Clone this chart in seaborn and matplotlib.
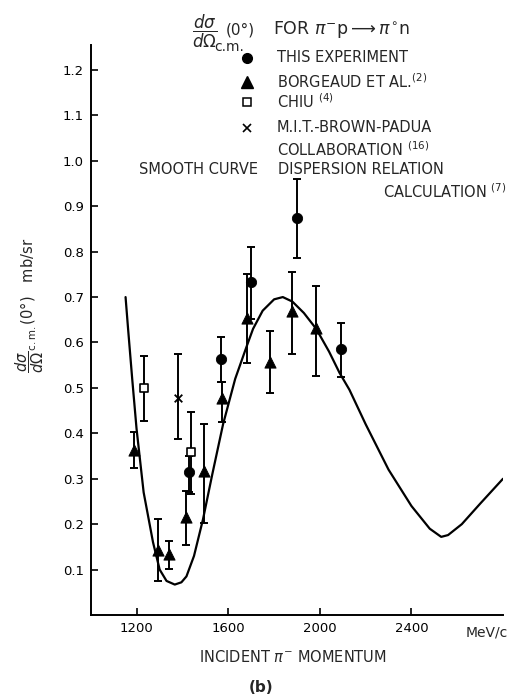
import numpy as np
import pandas as pd
import matplotlib
matplotlib.use("Agg")
import matplotlib.pyplot as plt
import seaborn as sns

# ---------------- data ----------------
exp_p = [1428, 1566, 1700, 1898, 2094]
exp_s = [0.314, 0.564, 0.734, 0.873, 0.586]
exp_lo = [0.270, 0.513, 0.651, 0.785, 0.524]
exp_hi = [0.351, 0.613, 0.811, 0.961, 0.643]

borg_p = [1188, 1293, 1341, 1417, 1492, 1572, 1680, 1781, 1879, 1984]
borg_s = [0.364, 0.143, 0.135, 0.215, 0.317, 0.477, 0.655, 0.556, 0.669, 0.631]
borg_lo = [0.324, 0.074, 0.101, 0.154, 0.203, 0.424, 0.555, 0.489, 0.574, 0.527]
borg_hi = [0.402, 0.212, 0.164, 0.272, 0.421, 0.513, 0.750, 0.626, 0.756, 0.724]

chiu_p = [1232, 1439]
chiu_s = [0.500, 0.359]
chiu_lo = [0.428, 0.267]
chiu_hi = [0.571, 0.446]

mit_p = [1380]
mit_s = [0.478]
mit_lo = [0.388]
mit_hi = [0.575]

curve_p = [1151, 1162, 1180, 1199, 1230, 1271, 1300, 1330, 1366, 1395, 1417,
           1450, 1489, 1530, 1577, 1630, 1679, 1708, 1750, 1800, 1838, 1880,
           1930, 1984, 2040, 2086, 2129, 2200, 2300, 2400, 2480, 2530, 2560,
           2620, 2700, 2800]
curve_s = [0.700, 0.630, 0.520, 0.410, 0.270, 0.160, 0.100, 0.075, 0.067, 0.072,
           0.085, 0.130, 0.210, 0.310, 0.420, 0.520, 0.590, 0.630, 0.670, 0.695,
           0.700, 0.690, 0.665, 0.630, 0.580, 0.533, 0.496, 0.420, 0.320, 0.240,
           0.190, 0.172, 0.176, 0.200, 0.245, 0.300]

x_ticks = [1200, 1600, 2000, 2400]
y_ticks = [0.1, 0.2, 0.3, 0.4, 0.5, 0.6, 0.7, 0.8, 0.9, 1.0, 1.1, 1.2]

# ---------------- style ----------------
sns.set_theme(style="ticks")
plt.rcParams["font.family"] = ["DejaVu Sans"]
plt.rcParams["mathtext.fontset"] = "dejavusans"

W, H = 510, 696
fig = plt.figure(figsize=(W / 100, H / 100), dpi=100)
fig.patch.set_facecolor("white")


def fx(x):
    return x / W


def fy(y):
    return 1 - y / H


ax = fig.add_axes([fx(91), fy(615), (503 - 91) / W, (615 - 45) / H])
ax.set_facecolor("white")

curve_df = pd.DataFrame({"p": curve_p, "s": curve_s})
sns.lineplot(data=curve_df, x="p", y="s", ax=ax, color="black", lw=1.6, sort=False)


def errs(s, lo, hi):
    s = np.asarray(s)
    return [s - np.asarray(lo), np.asarray(hi) - s]


for p, s, lo, hi in [(exp_p, exp_s, exp_lo, exp_hi),
                     (borg_p, borg_s, borg_lo, borg_hi),
                     (chiu_p, chiu_s, chiu_lo, chiu_hi),
                     (mit_p, mit_s, mit_lo, mit_hi)]:
    ax.errorbar(p, s, yerr=errs(s, lo, hi), fmt="none", ecolor="black",
                elinewidth=1.4, capsize=3, capthick=1.4, zorder=3)

sns.scatterplot(x=exp_p, y=exp_s, ax=ax, marker="o", s=55, color="black",
                edgecolor="black", zorder=4)
sns.scatterplot(x=borg_p, y=borg_s, ax=ax, marker="^", s=65, color="black",
                edgecolor="black", zorder=4)
sns.scatterplot(x=chiu_p, y=chiu_s, ax=ax, marker="s", s=40, facecolor="white",
                edgecolor="black", linewidth=1.2, zorder=4)
sns.scatterplot(x=mit_p, y=mit_s, ax=ax, marker="x", s=30, color="black",
                linewidth=1.3, zorder=4)

ax.set_xlim(1000, 2800)
ax.set_ylim(0, 1.255)
ax.set_xticks(x_ticks)
ax.set_xticklabels([str(t) for t in x_ticks])
ax.set_yticks(y_ticks)
ax.set_yticklabels([f"{t:.1f}" for t in y_ticks])
ax.set_xlabel("")
ax.set_ylabel("")
sns.despine(ax=ax)
for sp in ["left", "bottom"]:
    ax.spines[sp].set_color("black")
    ax.spines[sp].set_linewidth(1.4)
ax.tick_params(direction="in", length=5, width=1.2, colors="black",
               labelsize=9.5, pad=5)
ax.grid(False)

# ---------------- texts ----------------
fs = 10.5
fig.text(fx(487), fy(632), "MeV/c", fontsize=10, ha="center", va="center")
fig.text(fx(293), fy(657), r"INCIDENT $\pi^{-}$ MOMENTUM", fontsize=fs,
         ha="center", va="center")
fig.text(fx(261), fy(688), "(b)", fontsize=11, fontweight="bold",
         ha="center", va="center")

fig.text(fx(30), fy(305),
         r"$\dfrac{d\sigma}{d\Omega}{}_{\rm c.m.}$(0°)   mb/sr",
         fontsize=10.5, rotation=90, ha="center", va="center")

# header
fig.text(fx(192), fy(31), r"$\dfrac{d\sigma}{d\Omega}$", fontsize=12,
         ha="left", va="center")
fig.text(fx(214), fy(47), "c.m.", fontsize=10, ha="left", va="center")
fig.text(fx(226), fy(30), "(0°)", fontsize=11, ha="left", va="center")
fig.text(fx(273), fy(29), r"FOR $\pi^{-}$p$\longrightarrow\pi^{\circ}$n",
         fontsize=12.5, ha="left", va="center")

# legend
tx = 277
mx = 247
leg_rows = [
    (58, "THIS EXPERIMENT", dict(marker="o", ms=7, mfc="black", mec="black")),
    (82, r"BORGEAUD ET AL.$^{(2)}$", dict(marker="^", ms=8, mfc="black", mec="black")),
    (102, r"CHIU $^{(4)}$", dict(marker="s", ms=6, mfc="white", mec="black", mew=1.1)),
    (128, "M.I.T.-BROWN-PADUA", dict(marker="x", ms=6, mfc="black", mec="black", mew=1.2)),
]
for y, label, mk in leg_rows:
    fig.text(fx(tx), fy(y), label, fontsize=fs, ha="left", va="center")
    fig.lines.append(plt.Line2D([fx(mx)], [fy(y)], transform=fig.transFigure,
                                linestyle="none", **mk))
fig.text(fx(tx), fy(150), r"COLLABORATION $^{(16)}$", fontsize=fs,
         ha="left", va="center")
fig.text(fx(258), fy(170), "SMOOTH CURVE", fontsize=fs, ha="right", va="center")
fig.text(fx(278), fy(170), "DISPERSION RELATION", fontsize=fs, ha="left",
         va="center")
fig.text(fx(383), fy(192), r"CALCULATION $^{(7)}$", fontsize=fs, ha="left",
         va="center")

fig.savefig("out.png", dpi=100, facecolor="white")
